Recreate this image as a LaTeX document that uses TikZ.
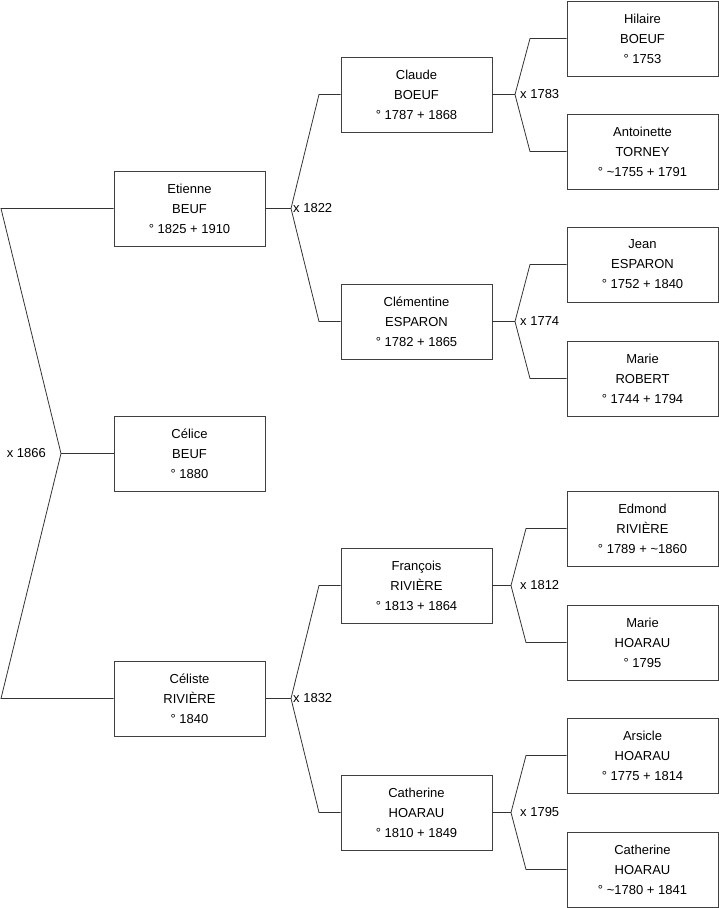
\documentclass[tikz,border=0pt]{standalone}
\usepackage{fontspec}
\setmainfont{Liberation Sans}
\begin{document}
\begin{tikzpicture}[x=1pt,y=-1pt,
  person/.style={draw=black!75, line width=0.8pt, rectangle, minimum width=151pt, minimum height=75pt, inner sep=0pt, align=center, font=\fontsize{13}{20}\selectfont},
  link/.style={draw=black!80, line width=0.8pt},
  marr/.style={font=\fontsize{13}{15}\selectfont, inner sep=0pt}]
\useasboundingbox (0,0) rectangle (719,908);
% generation 1
\node[person] (et) at (189.5,208.5) {Etienne\\BEUF\\° 1825 + 1910};
\node[person] (ce) at (189.5,453.5) {Célice\\BEUF\\° 1880};
\node[person] (cs) at (189.5,698.5) {Céliste\\RIVIÈRE\\° 1840};
% generation 2
\node[person] (cl) at (416.5,94.5) {Claude\\BOEUF\\° 1787 + 1868};
\node[person] (cm) at (416.5,321.5) {Clémentine\\ESPARON\\° 1782 + 1865};
\node[person] (fr) at (416.5,585.5) {François\\RIVIÈRE\\° 1813 + 1864};
\node[person] (ca) at (416.5,812.5) {Catherine\\HOARAU\\° 1810 + 1849};
% generation 3
\node[person] (hi) at (642.5,38.5) {Hilaire\\BOEUF\\° 1753};
\node[person] (an) at (642.5,151.5) {Antoinette\\TORNEY\\° \textasciitilde1755 + 1791};
\node[person] (je) at (642.5,264.5) {Jean\\ESPARON\\° 1752 + 1840};
\node[person] (mr) at (642.5,378.5) {Marie\\ROBERT\\° 1744 + 1794};
\node[person] (ed) at (642.5,528.5) {Edmond\\RIVIÈRE\\° 1789 + \textasciitilde1860};
\node[person] (mh) at (642.5,642.5) {Marie\\HOARAU\\° 1795};
\node[person] (ar) at (642.5,755.5) {Arsicle\\HOARAU\\° 1775 + 1814};
\node[person] (ch) at (642.5,869.5) {Catherine\\HOARAU\\° \textasciitilde1780 + 1841};
% root marriage
\coordinate (m0) at (61,453.5);
\coordinate (r0a) at (1,208.5);
\coordinate (r0b) at (1,698.5);
\draw[link] (et.west) -- (r0a) -- (m0) -- (r0b) -- (cs.west);
\draw[link] (m0) -- (ce.west);
\node[marr, anchor=east] (x1866) at (46,453.5) {x 1866};
% Etienne's parents
\coordinate (m1) at (291,208.5);
\draw[link] (et.east) -- (m1);
\draw[link] (cl.west) -- (319,94.5) -- (m1) -- (319,321.5) -- (cm.west);
\node[marr, anchor=west] (x1822) at (293,208.5) {x 1822};
% Celiste's parents
\coordinate (m2) at (291,698.5);
\draw[link] (cs.east) -- (m2);
\draw[link] (fr.west) -- (319,585.5) -- (m2) -- (319,812.5) -- (ca.west);
\node[marr, anchor=west] (x1832) at (293,698.5) {x 1832};
% Claude's parents
\coordinate (m3) at (515,94.5);
\draw[link] (cl.east) -- (m3);
\draw[link] (hi.west) -- (530,38.5) -- (m3) -- (530,151.5) -- (an.west);
\node[marr, anchor=west] (x1783) at (520,94.5) {x 1783};
% Clementine's parents
\coordinate (m4) at (515,321.5);
\draw[link] (cm.east) -- (m4);
\draw[link] (je.west) -- (530,264.5) -- (m4) -- (530,378.5) -- (mr.west);
\node[marr, anchor=west] (x1774) at (520,321.5) {x 1774};
% Francois's parents
\coordinate (m5) at (511,585.5);
\draw[link] (fr.east) -- (m5);
\draw[link] (ed.west) -- (526,528.5) -- (m5) -- (526,642.5) -- (mh.west);
\node[marr, anchor=west] (x1812) at (520,585.5) {x 1812};
% Catherine's parents
\coordinate (m6) at (511,812.5);
\draw[link] (ca.east) -- (m6);
\draw[link] (ar.west) -- (526,755.5) -- (m6) -- (526,869.5) -- (ch.west);
\node[marr, anchor=west] (x1795) at (520,812.5) {x 1795};
\end{tikzpicture}
\end{document}
